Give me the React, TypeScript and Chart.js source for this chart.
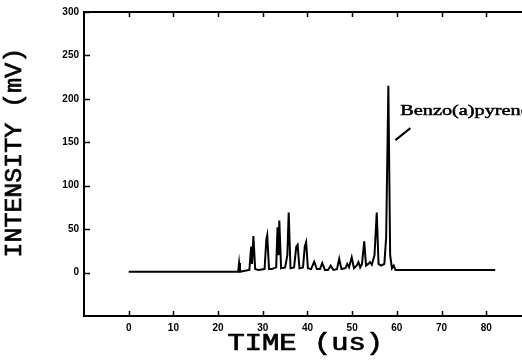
import React, { useEffect, useRef } from "react";
import { Chart, registerables } from "chart.js";

Chart.register(...registerables);

// Chromatogram trace: time (us) and intensity (mV)
const timeUs = [
  0, 24, 24.5, 24.7, 24.9, 26, 27.0, 27.4, 27.6, 27.9, 28.3, 29, 30.4, 30.8, 31.0, 31.4,
  32, 33.0, 33.3, 33.5, 33.7, 34.1, 35, 35.5, 35.8, 36.2, 37, 37.5, 37.8, 38.2, 39, 39.4,
  39.7, 40.1, 40.8, 41.5, 42.1, 42.8, 43.3, 43.9, 44.6, 45.2, 45.8, 46.6, 47.1, 47.6, 48.5,
  48.9, 49.3, 49.9, 50.4, 51.0, 51.4, 51.8, 52.2, 52.7, 53.1, 53.6, 54.0, 54.4, 55.0, 55.5,
  55.9, 56.5, 57.2, 57.6, 58.1, 58.5, 58.9, 59.3, 59.7, 60, 82,
];
const intensityMv = [
  1, 1, 1, 11, 1, 2, 3, 30, 10, 42, 4, 3, 4, 38, 43, 4,
  4, 6, 52, 20, 60, 5, 6, 20, 69, 5, 6, 30, 32, 5, 6, 30,
  35, 5, 4, 12.5, 4, 4, 11, 3, 3, 8, 3, 4, 16, 4, 5,
  10, 6, 17.5, 5, 8, 12, 6, 10, 36, 8, 10, 12, 9, 20, 69,
  10, 8, 10, 40, 215, 20, 5, 8, 3, 3, 3,
];

const xTickValues = [0, 10, 20, 30, 40, 50, 60, 70, 80];
const yTickValues = [0, 50, 100, 150, 200, 250, 300];

const xAxisTitle = "TIME (us)";
const yAxisTitle = "INTENSITY (mV)";
const peakLabel = "Benzo(a)pyrene";

const framePlugin = {
  id: "frame",
  afterDraw(chart: any) {
    const { ctx, chartArea: a, scales } = chart;
    const x = scales.x;
    const y = scales.y;
    ctx.save();
    ctx.strokeStyle = "#000";
    ctx.fillStyle = "#000";
    // top frame line
    ctx.lineWidth = 2;
    ctx.beginPath();
    ctx.moveTo(a.left - 1, a.top);
    ctx.lineTo(a.right, a.top);
    ctx.stroke();
    // inward tick marks
    ctx.lineWidth = 1.5;
    ctx.beginPath();
    for (const v of xTickValues) {
      const px = Math.round(x.getPixelForValue(v)) + 0.5;
      ctx.moveTo(px, a.bottom);
      ctx.lineTo(px, a.bottom - 5);
      ctx.moveTo(px, a.top);
      ctx.lineTo(px, a.top + 5);
    }
    for (const v of yTickValues) {
      const py = Math.round(y.getPixelForValue(v)) + 0.5;
      ctx.moveTo(a.left, py);
      ctx.lineTo(a.left + 6, py);
    }
    ctx.stroke();

    // axis titles
    ctx.font = '24px "Liberation Mono"';
    ctx.textAlign = "center";
    ctx.textBaseline = "middle";
    ctx.lineWidth = 0.7;
    ctx.save();
    ctx.translate(x.getPixelForValue(39.5), 344);
    ctx.scale(1.2, 1);
    ctx.fillText(xAxisTitle, 0, 0);
    ctx.strokeText(xAxisTitle, 0, 0);
    ctx.restore();

    ctx.save();
    ctx.translate(15, y.getPixelForValue(138));
    ctx.rotate(-Math.PI / 2);
    ctx.scale(1.04, 1);
    ctx.fillText(yAxisTitle, 0, 0);
    ctx.strokeText(yAxisTitle, 0, 0);
    ctx.restore();

    // peak annotation
    const peakX = x.getPixelForValue(58.1);
    const peakY = y.getPixelForValue(164);
    ctx.lineWidth = 2;
    ctx.beginPath();
    ctx.moveTo(peakX + 7, peakY + 10);
    ctx.lineTo(peakX + 22, peakY - 2);
    ctx.stroke();
    ctx.save();
    ctx.font = '15px "Liberation Serif"';
    ctx.textAlign = "left";
    ctx.lineWidth = 0.5;
    ctx.translate(peakX + 12, y.getPixelForValue(186));
    ctx.scale(1.35, 1);
    ctx.fillText(peakLabel, 0, 0);
    ctx.strokeText(peakLabel, 0, 0);
    ctx.restore();

    ctx.restore();
  },
};

export default function App() {
  const canvasRef = useRef<HTMLCanvasElement | null>(null);

  useEffect(() => {
    const canvas = canvasRef.current;
    if (!canvas) return;
    const points = timeUs.map((t, i) => ({ x: t, y: intensityMv[i] }));
    const tickFont = { family: '"Liberation Sans"', size: 10, weight: "bold" as const };
    const chart = new Chart(canvas, {
      type: "line",
      data: {
        datasets: [
          {
            data: points,
            borderColor: "#000",
            borderWidth: 2,
            pointRadius: 0,
            tension: 0,
            fill: false,
          },
        ],
      },
      options: {
        animation: false,
        responsive: false,
        devicePixelRatio: 1,
        layout: { padding: { top: 12, right: 0, left: 0, bottom: 0 } },
        plugins: { legend: { display: false }, tooltip: { enabled: false } },
        scales: {
          x: {
            type: "linear",
            min: -10,
            max: 88,
            afterFit: (s: any) => {
              s.height = 46;
            },
            afterBuildTicks: (s: any) => {
              s.ticks = xTickValues.map((v) => ({ value: v }));
            },
            grid: { display: false, drawTicks: false },
            border: { display: true, color: "#000", width: 2 },
            ticks: { color: "#000", font: tickFont, padding: 6, maxRotation: 0, autoSkip: false },
          },
          y: {
            type: "linear",
            min: -50,
            max: 300,
            afterFit: (s: any) => {
              s.width = 84;
            },
            afterBuildTicks: (s: any) => {
              s.ticks = yTickValues.map((v) => ({ value: v }));
            },
            grid: { display: false, drawTicks: false },
            border: { display: true, color: "#000", width: 2 },
            ticks: { color: "#000", font: tickFont, padding: 5, autoSkip: false },
          },
        },
      },
      plugins: [framePlugin],
    });
    return () => chart.destroy();
  }, []);

  return (
    <div style={{ position: "absolute", left: 0, top: 0, width: 522, height: 362, background: "#fff", overflow: "hidden" }}>
      <canvas ref={canvasRef} width={522} height={362} style={{ width: 522, height: 362, display: "block" }} />
    </div>
  );
}
